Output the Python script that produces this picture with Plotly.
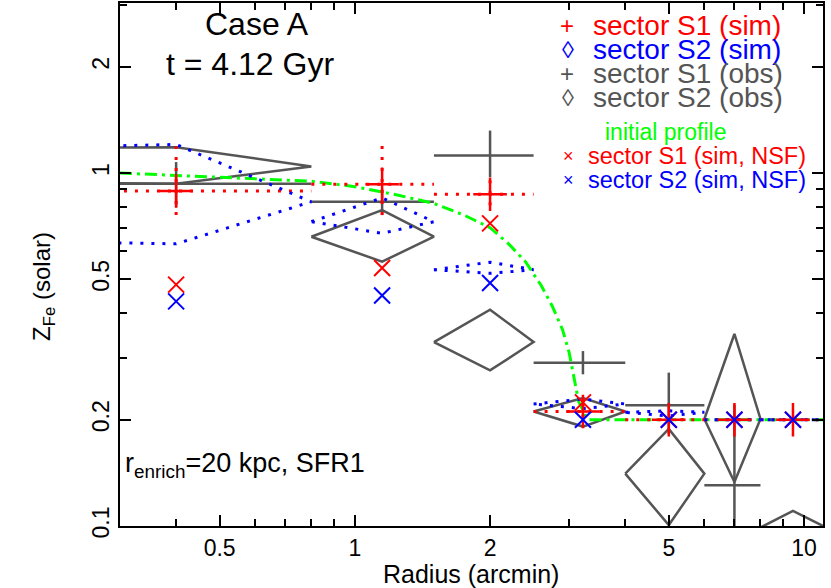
import math
import plotly.graph_objects as go

# ---------------- data ----------------
bin_lo = [0.0, 0.8, 1.5, 2.5, 4.0, 6.0, 8.0]
bin_hi = [0.8, 1.5, 2.5, 4.0, 6.0, 8.0, 11.2]
r_mid = [0.40, 1.15, 2.0, 3.22, 5.0, 7.0, 9.45]

# sector S1 (sim) : value and error range
s1_sim = [0.890, 0.929, 0.871, 0.211, 0.200, 0.200, 0.200]
s1_sim_lo = [0.760, 0.760, 0.811, 0.203, 0.200, 0.200, 0.200]
s1_sim_hi = [1.190, 1.210, 0.985, 0.231, 0.200, 0.200, 0.200]

# sector S2 (sim)
s2_sim = [0.829, 0.728, 0.532, 0.2216, 0.210, 0.200, 0.200]
s2_sim_lo = [0.630, 0.675, 0.520, 0.215, 0.205, 0.200, 0.200]
s2_sim_hi = [1.205, 0.850, 0.559, 0.229, 0.212, 0.200, 0.200]

# sector S1 (obs)
s1_obs = [0.933, 0.829, 1.122, 0.290, 0.220, 0.1305, None]
s1_obs_lo = [0.800, 0.760, 0.974, 0.269, 0.182, 0.070, None]
s1_obs_hi = [1.074, 0.900, 1.319, 0.313, 0.272, 0.2206, None]

# sector S2 (obs)
s2_obs = [1.044, 0.660, 0.332, 0.211, 0.1407, 0.201, 0.099]
s2_obs_lo = [0.933, 0.561, 0.276, 0.1913, 0.1006, 0.1333, 0.090]
s2_obs_hi = [1.184, 0.785, 0.410, 0.2304, 0.1884, 0.350, 0.1104]

# no-star-formation runs
s1_nsf = [0.483, 0.538, 0.720, 0.224, 0.200, 0.200, 0.200]
s2_nsf = [0.433, 0.450, 0.488, 0.200, 0.200, 0.200, 0.200]

# initial profile
init_r = [0.3, 0.5, 0.8, 1.0, 1.25, 1.5, 1.75, 2.0, 2.2, 2.4, 2.6, 2.75, 2.9,
          3.0, 3.08, 3.15, 3.3, 11.2]
init_z = [1.0, 0.975, 0.948, 0.915, 0.865, 0.82, 0.76, 0.70, 0.63, 0.56, 0.48,
          0.42, 0.36, 0.31, 0.26, 0.225, 0.2, 0.2]

x_ticks = [0.5, 1, 2, 5, 10]
x_ticktext = ["0.5", "1", "2", "5", "10"]
x_minor = [0.4, 0.6, 0.7, 0.8, 0.9, 3, 4, 6, 7, 8, 9]
y_ticks = [0.1, 0.2, 0.5, 1, 2]
y_ticktext = ["0.1", "0.2", "0.5", "1", "2"]
y_minor = [0.3, 0.4, 0.6, 0.7, 0.8, 0.9, 3]

# ---------------- helpers ----------------
LOGMIN = 1e-6  # a zero bin edge cannot be shown on a log axis


def pos(v):
    return max(v, LOGMIN)


def cross_segments(xc, y, ylo, yhi, lo, hi):
    xs, ys = [], []
    for i in range(len(xc)):
        if y[i] is None:
            continue
        xs += [pos(lo[i]), hi[i], None, xc[i], xc[i], None]
        ys += [y[i], y[i], None, ylo[i], yhi[i], None]
    return xs, ys


def diamond_segments(xc, y, ylo, yhi, lo, hi):
    xs, ys = [], []
    for i in range(len(xc)):
        if y[i] is None:
            continue
        xs += [pos(lo[i]), xc[i], hi[i], xc[i], pos(lo[i]), None]
        ys += [y[i], yhi[i], y[i], ylo[i], y[i], None]
    return xs, ys


RED = "#ff0000"
BLUE = "#0000ff"
GRAY = "#555555"
GREEN = "#00ff00"
FONT = "Liberation Sans, Arial, Helvetica, sans-serif"

fig = go.Figure()

# observed S2 diamonds
dx, dy = diamond_segments(r_mid, s2_obs, s2_obs_lo, s2_obs_hi, bin_lo, bin_hi)
fig.add_trace(go.Scatter(x=dx, y=dy, mode="lines",
                         line=dict(color=GRAY, width=2.5), hoverinfo="skip"))
# observed S1 crosses
cx, cy = cross_segments(r_mid, s1_obs, s1_obs_lo, s1_obs_hi, bin_lo, bin_hi)
fig.add_trace(go.Scatter(x=cx, y=cy, mode="lines",
                         line=dict(color=GRAY, width=2.5), hoverinfo="skip"))
# initial profile
fig.add_trace(go.Scatter(x=init_r, y=init_z, mode="lines",
                         line=dict(color=GREEN, width=3, dash="12px,5px,3px,5px"),
                         hoverinfo="skip"))
# simulated S1 (dotted error cross)
cx, cy = cross_segments(r_mid, s1_sim, s1_sim_lo, s1_sim_hi, bin_lo, bin_hi)
fig.add_trace(go.Scatter(x=cx, y=cy, mode="lines",
                         line=dict(color=RED, width=3, dash="3px,8px"),
                         hoverinfo="skip"))
# simulated S2 (dotted diamond)
dx, dy = diamond_segments(r_mid, s2_sim, s2_sim_lo, s2_sim_hi, bin_lo, bin_hi)
fig.add_trace(go.Scatter(x=dx, y=dy, mode="lines",
                         line=dict(color=BLUE, width=3, dash="3px,8px"),
                         hoverinfo="skip"))
# simulated S1 plus markers
fig.add_trace(go.Scatter(x=r_mid, y=s1_sim, mode="markers",
                         marker=dict(symbol="cross-thin", size=24,
                                     line=dict(color=RED, width=2.5)),
                         hoverinfo="skip"))
# NSF markers
fig.add_trace(go.Scatter(x=r_mid, y=s1_nsf, mode="markers",
                         marker=dict(symbol="x-thin", size=16,
                                     line=dict(color=RED, width=2)),
                         hoverinfo="skip"))
fig.add_trace(go.Scatter(x=r_mid, y=s2_nsf, mode="markers",
                         marker=dict(symbol="x-thin", size=16,
                                     line=dict(color=BLUE, width=2)),
                         hoverinfo="skip"))

W, H = 831, 588
ML, MR, MT, MB = 120, 8, 1, 62
PW, PH = W - ML - MR, H - MT - MB


def px(x, y):
    return (x - ML) / PW, (H - MB - y) / PH


def label(text, x, y, size, color="black", xanchor="center", angle=0):
    ax_, ay_ = px(x, y)
    fig.add_annotation(text=text, x=ax_, y=ay_, xref="paper", yref="paper",
                       showarrow=False, xanchor=xanchor, yanchor="middle",
                       textangle=angle,
                       font=dict(family=FONT, size=size, color=color))


# texts inside the plot
label("Case A", 257, 22, 32)
label("t = 4.12 Gyr", 250, 62, 32)
label("r<sub>enrich</sub>=20 kpc, SFR1", 123, 465, 27, xanchor="left")

# legend
label("+", 567, 24, 24, RED)
label("sector S1 (sim)", 591, 24, 28, RED, xanchor="left")
label("◊", 568, 48, 24, BLUE)
label("sector S2 (sim)", 591, 48, 28, BLUE, xanchor="left")
label("+", 567, 72, 24, GRAY)
label("sector S1 (obs)", 591, 72, 28, GRAY, xanchor="left")
label("◊", 568, 96, 24, GRAY)
label("sector S2 (obs)", 591, 96, 28, GRAY, xanchor="left")
label("initial profile", 665, 130, 23, GREEN)
label("×", 568, 155, 18, RED)
label("sector S1 (sim, NSF)", 586, 155, 23.5, RED, xanchor="left")
label("×", 568, 179, 18, BLUE)
label("sector S2 (sim, NSF)", 586, 179, 23.5, BLUE, xanchor="left")

# axis titles
label("Radius (arcmin)", 471, 574, 25)
label("Z<sub>Fe</sub> (solar)", 44, 286, 24, angle=-90)

axis_common = dict(
    type="log", showgrid=False, zeroline=False, showline=True,
    linecolor="black", linewidth=2, mirror="ticks",
    ticks="inside", ticklen=11, tickwidth=1.5, tickcolor="black",
    tickmode="array",
    tickfont=dict(family=FONT, size=23, color="black"),
)

fig.update_xaxes(**axis_common,
                 range=[math.log10(0.3), 1.0423],
                 tickvals=x_ticks, ticktext=x_ticktext,
                 minor=dict(tickvals=x_minor, ticks="inside", ticklen=7,
                            tickwidth=1.5, tickcolor="black", showgrid=False))
fig.update_yaxes(**axis_common,
                 range=[-1, 0.4817],
                 tickvals=y_ticks, ticktext=y_ticktext, tickangle=-90,
                 minor=dict(tickvals=y_minor, ticks="inside", ticklen=7,
                            tickwidth=1.5, tickcolor="black", showgrid=False))

fig.update_layout(
    width=W, height=H,
    margin=dict(l=ML, r=MR, t=MT, b=MB),
    paper_bgcolor="white", plot_bgcolor="white",
    showlegend=False,
    font=dict(family=FONT),
)

fig.write_html("out.html",
               config={"displayModeBar": False},
               post_script="document.body.style.margin='0px';"
                           "document.body.style.overflow='hidden';")
